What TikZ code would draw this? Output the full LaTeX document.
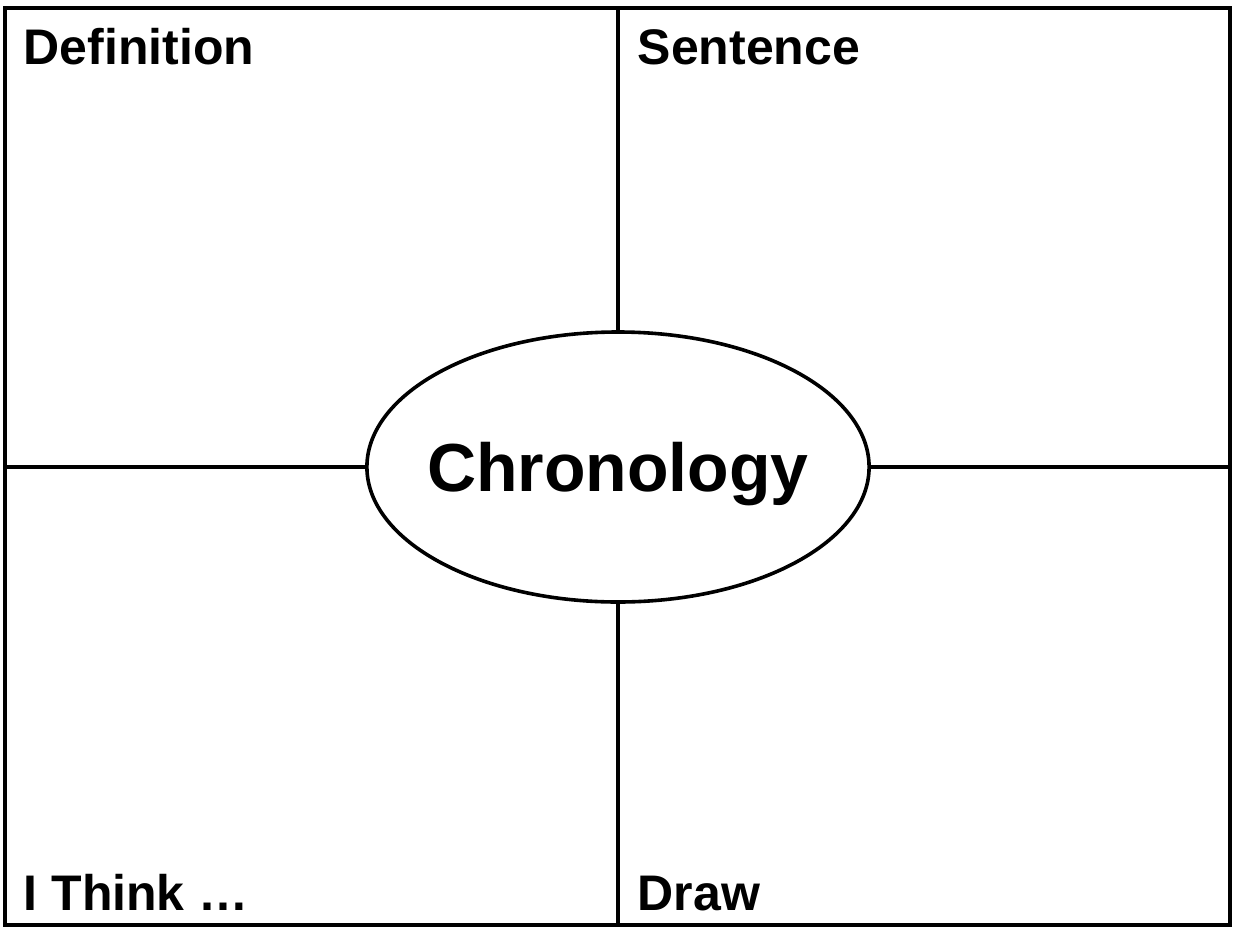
\documentclass[tikz,border=0pt]{standalone}
\usepackage{fontspec}
\setmainfont{Liberation Sans}
\usetikzlibrary{shapes.geometric}

\begin{document}
\begin{tikzpicture}[x=0.5pt,y=-0.5pt,line width=1.7pt]
        \tikzstyle{label}=[anchor=base west,inner sep=0pt,font=\fontsize{25pt}{30pt}\selectfont\bfseries]
        \tikzstyle{word}=[ellipse,draw=black,fill=white,line width=1.8pt,minimum width=250pt,minimum height=135pt,inner xsep=-6.6pt,inner ysep=0pt,text depth=0pt,font=\fontsize{34pt}{40pt}\selectfont\bfseries]
        \useasboundingbox (0,0) rectangle (1233,927);

        \draw[line width=2pt] (5,8) rectangle (1230,925);

        \coordinate (T) at (618,8);
        \coordinate (B) at (618,925);
        \coordinate (L) at (5,467);
        \coordinate (R) at (1230,467);

        \node[word]  (chrono) at (618,467) {Chronology};

        \draw (T) -- (chrono.north)
              (B) -- (chrono.south)
              (L) -- (chrono.west)
              (R) -- (chrono.east);

        \node[label] (def)  at (22,64)  {Definition};
        \node[label] (sent) at (636,64) {Sentence};
        \node[label] (think) at (22,910) {I Think …};
        \node[label] (draw) at (636,910) {Draw};
      \end{tikzpicture}
\end{document}
